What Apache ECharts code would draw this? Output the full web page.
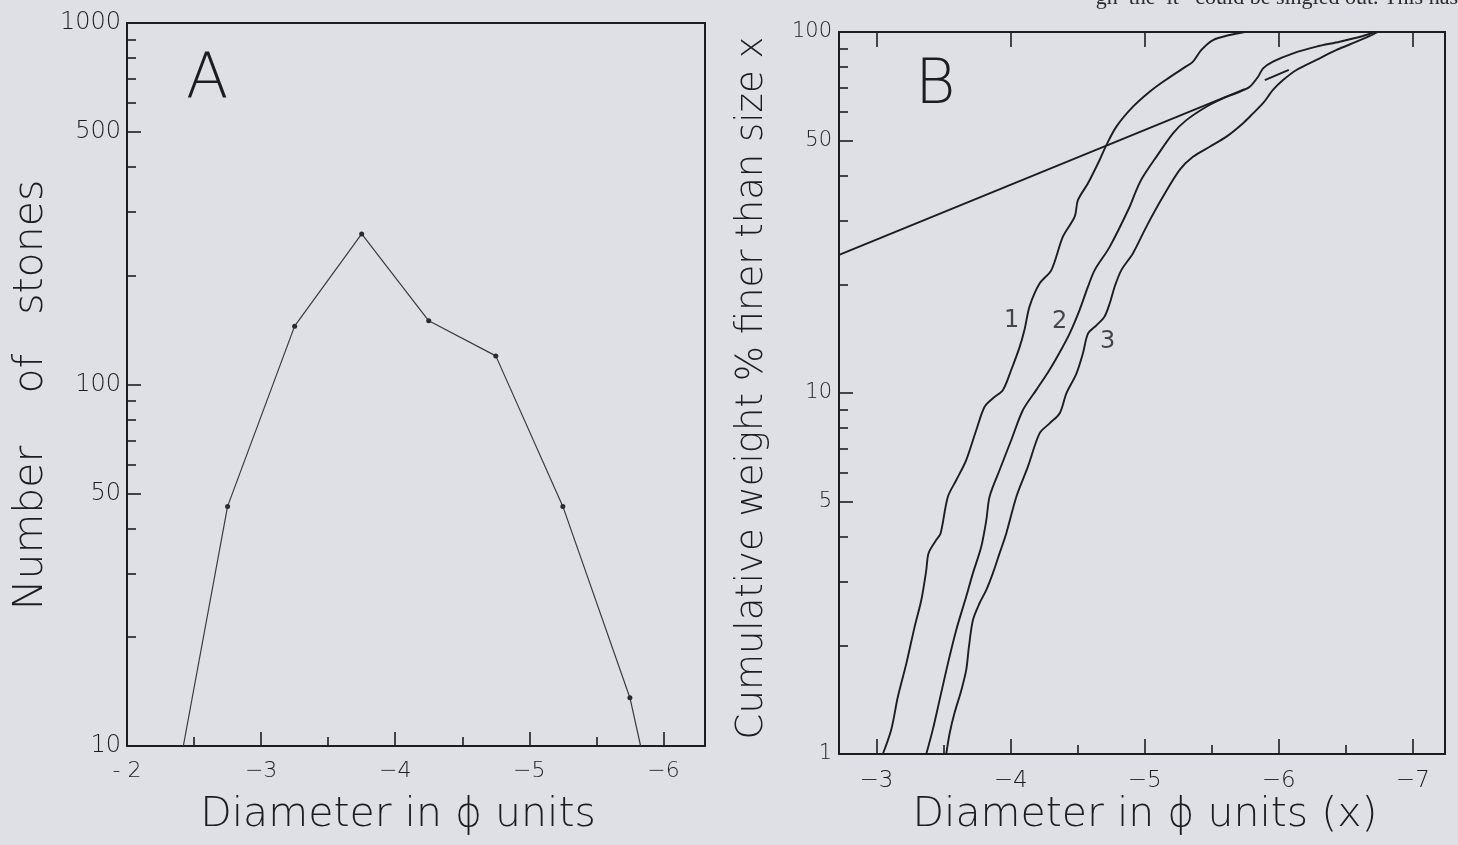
<!DOCTYPE html>
<html>
<head>
<meta charset="utf-8">
<script src="https://cdn.jsdelivr.net/npm/echarts@6/dist/echarts.min.js"></script>
<style>
  html, body { margin: 0; padding: 0; background: #dfe0e6; }
  #chart { width: 1458px; height: 845px; }
</style>
</head>
<body>
<div id="chart"></div>
<script>
// panel A: number of stones per half-phi class
var aPhi = [-2.42, -2.75, -3.25, -3.75, -4.25, -4.75, -5.25, -5.75, -5.83];
var aStones = [10, 46, 145, 261, 150, 120, 46, 13.6, 10];

// panel B: cumulative curves 1, 2, 3
var c1Phi = [-3.047, -3.110, -3.159, -3.222, -3.284, -3.334, -3.371, -3.388, -3.446, -3.478,
  -3.532, -3.595, -3.669, -3.744, -3.806, -3.868, -3.943, -4.005, -4.067, -4.104,
  -4.142, -4.216, -4.304, -4.390, -4.478, -4.502, -4.577, -4.664, -4.714, -4.789,
  -4.913, -5.037, -5.137, -5.286, -5.360, -5.423, -5.510, -5.634, -5.746];
var c1Pct = [1.0, 1.17, 1.44, 1.78, 2.25, 2.67, 3.23, 3.60, 3.92, 4.09,
  5.16, 5.74, 6.52, 7.90, 9.16, 9.67, 10.2, 11.6, 13.4, 15.0,
  17.4, 20.1, 21.9, 27.1, 30.8, 34.2, 38.1, 44.2, 48.6, 54.7,
  62.1, 68.3, 72.8, 79.3, 82.8, 89.2, 95.0, 98.1, 100];

var c2Phi = [-3.371, -3.420, -3.470, -3.532, -3.595, -3.669, -3.719, -3.781, -3.819, -3.843,
  -3.918, -4.005, -4.092, -4.192, -4.291, -4.378, -4.440, -4.515, -4.577, -4.627,
  -4.739, -4.888, -4.938, -4.987, -5.087, -5.211, -5.311, -5.460, -5.584, -5.709,
  -5.784, -5.846, -5.883, -5.957, -6.107, -6.281, -6.455, -6.629, -6.716];
var c2Pct = [1.0, 1.17, 1.41, 1.78, 2.21, 2.73, 3.17, 3.75, 4.45, 5.16,
  6.12, 7.41, 8.97, 10.2, 11.6, 13.2, 14.6, 17.0, 19.7, 21.9,
  25.4, 32.8, 36.5, 39.7, 45.1, 52.4, 57.0, 62.1, 65.5, 68.3,
  70.5, 75.2, 79.3, 82.8, 87.3, 91.1, 94.0, 97.5, 100];

var c3Phi = [-3.520, -3.545, -3.582, -3.632, -3.669, -3.689, -3.719, -3.769, -3.819, -3.868,
  -3.918, -3.968, -4.043, -4.129, -4.216, -4.291, -4.366, -4.416, -4.490, -4.540,
  -4.577, -4.640, -4.701, -4.739, -4.776, -4.826, -4.913, -5.013, -5.137, -5.261,
  -5.360, -5.485, -5.610, -5.734, -5.808, -5.883, -5.957, -6.032, -6.132, -6.281,
  -6.431, -6.580, -6.679, -6.739];
var c3Pct = [1.0, 1.14, 1.30, 1.50, 1.71, 1.98, 2.35, 2.62, 2.85, 3.17,
  3.60, 4.09, 5.16, 6.25, 7.73, 8.24, 8.79, 9.98, 11.3, 12.9,
  14.6, 15.4, 16.3, 17.7, 19.7, 21.9, 24.4, 28.9, 35.0, 41.5,
  45.1, 48.1, 51.3, 55.9, 59.5, 63.5, 69.1, 73.6, 78.5, 83.7,
  89.2, 94.0, 97.5, 100];

// straight reference line (drawn in two pieces, broken where it meets the curves)
var linePhi = [-2.716, -5.746];
var linePct = [24.1, 69.5];
var dashPhi = [-5.896, -6.075];
var dashPct = [73.6, 78.5];

var curveNames = ['1', '2', '3'];
var curveNamePhi = [-4.007, -4.366, -4.724];
var curveNamePct = [15.9, 15.8, 13.85];

// ticks and labels
var aXLabels = [-2, -3, -4, -5, -6];
var aXMajor = [-3, -4, -5, -6];
var aXMinor = [-2.5, -3.5, -4.5, -5.5];
var aYLabels = [10, 50, 100, 500, 1000];
var aYMajor = [50, 100, 500];
var aYMinor = [20, 30, 40, 60, 70, 80, 90, 200, 300, 400, 600, 700, 800, 900];

var bXLabels = [-3, -4, -5, -6, -7];
var bXMinor = [-3.5, -4.5, -5.5, -6.5];
var bYLabels = [1, 5, 10, 50, 100];
var bYMajor = [5, 10, 50];
var bYMinor = [2, 3, 4, 6, 7, 8, 9, 20, 30, 40, 60, 70, 80, 90];

var ink = '#1d1d1f';
var font = 'DejaVu Sans';

function pairs(xs, ys) {
  return xs.map(function (x, i) { return [x, ys[i]]; });
}
function minusFmt(v) {
  return (v == -2 ? '- ' : '\u2212') + Math.abs(v);
}
function plainFmt(v) {
  return String(v);
}
function tickOnly(grid, type, pos, range, values, len, extra) {
  var ax = {
    gridIndex: grid, type: type, position: pos,
    min: range[0], max: range[1],
    axisLine: { show: false },
    splitLine: { show: false },
    axisLabel: { show: false },
    axisTick: { show: true, inside: true, length: len, customValues: values,
      lineStyle: { color: ink, width: 1.6 } }
  };
  return Object.assign(ax, extra || {});
}

var aXRange = [-6.31, -2], bXRange = [-7.24, -2.72];
var xAxes = [
  tickOnly(0, 'value', 'bottom', aXRange, aXMinor, 9, {
    inverse: true,
    axisLabel: { show: true, customValues: aXLabels, formatter: minusFmt, margin: 14,
      fontFamily: font, fontWeight: 200, fontSize: 22, color: ink }
  }),
  tickOnly(0, 'value', 'bottom', aXRange, aXMajor, 14, { inverse: true }),
  tickOnly(1, 'value', 'bottom', bXRange, bXMinor, 9, {
    inverse: true,
    axisLabel: { show: true, customValues: bXLabels, formatter: minusFmt, margin: 16,
      fontFamily: font, fontWeight: 200, fontSize: 23, color: ink }
  }),
  tickOnly(1, 'value', 'bottom', bXRange, bXLabels, 15, { inverse: true }),
  tickOnly(1, 'value', 'top', bXRange, bXLabels, 15, { inverse: true })
];
var yAxes = [
  tickOnly(0, 'log', 'left', [10, 1000], aYMinor, 9, {
    logBase: 10,
    axisLabel: { show: true, customValues: aYLabels, formatter: plainFmt, margin: 6,
      fontFamily: font, fontWeight: 200, fontSize: 24, color: ink }
  }),
  tickOnly(0, 'log', 'left', [10, 1000], aYMajor, 14, { logBase: 10 }),
  tickOnly(1, 'log', 'left', [1, 100], bYMinor, 9, {
    logBase: 10,
    axisLabel: { show: true, customValues: bYLabels, formatter: plainFmt, margin: 7,
      fontFamily: font, fontWeight: 200, fontSize: 21, color: ink }
  }),
  tickOnly(1, 'log', 'left', [1, 100], bYMajor, 14, { logBase: 10 })
];

function curve(xs, ys) {
  return {
    type: 'line', xAxisIndex: 2, yAxisIndex: 2,
    data: pairs(xs, ys), symbol: 'none', smooth: 0.3,
    lineStyle: { color: ink, width: 1.9 }
  };
}

var chart = echarts.init(document.getElementById('chart'), null, { renderer: 'canvas' });
chart.setOption({
  backgroundColor: '#dfe0e6',
  animation: false,
  grid: [
    { left: 127, top: 23, width: 578, height: 723, show: true,
      borderColor: ink, borderWidth: 2, backgroundColor: 'transparent' },
    { left: 839, top: 32, width: 606, height: 722, show: true,
      borderColor: ink, borderWidth: 2, backgroundColor: 'transparent' }
  ],
  xAxis: xAxes,
  yAxis: yAxes,
  series: [
    {
      type: 'line', xAxisIndex: 0, yAxisIndex: 0,
      data: aPhi.map(function (p, i) {
        var end = i === 0 || i === aPhi.length - 1;
        return { value: [p, aStones[i]], symbol: end ? 'none' : 'circle' };
      }),
      symbolSize: 5, showAllSymbol: true,
      itemStyle: { color: '#2a2a2a' },
      lineStyle: { color: '#3a3a3a', width: 1.2 }
    },
    curve(c1Phi, c1Pct),
    curve(c2Phi, c2Pct),
    curve(c3Phi, c3Pct),
    { type: 'line', xAxisIndex: 2, yAxisIndex: 2, data: pairs(linePhi, linePct),
      symbol: 'none', lineStyle: { color: ink, width: 1.9 } },
    { type: 'line', xAxisIndex: 2, yAxisIndex: 2, data: pairs(dashPhi, dashPct),
      symbol: 'none', lineStyle: { color: ink, width: 1.9 } },
    {
      type: 'scatter', xAxisIndex: 2, yAxisIndex: 2,
      data: pairs(curveNamePhi, curveNamePct),
      symbolSize: 1, itemStyle: { color: 'rgba(0,0,0,0)' },
      label: { show: true, position: 'inside', fontFamily: font, fontWeight: 'normal',
        fontSize: 24, color: ink,
        formatter: function (p) { return curveNames[p.dataIndex]; } }
    }
  ],
  graphic: [
    { type: 'text', left: 186, top: 50,
      style: { text: 'A', font: '200 62px "DejaVu Sans"', fill: ink } },
    { type: 'text', left: 915, top: 56,
      style: { text: 'B', font: '200 62px "DejaVu Sans"', fill: ink } },
    { type: 'text', x: 31, y: 395, rotation: Math.PI / 2,
      style: { text: 'Number\u00a0\u00a0\u00a0 of\u00a0\u00a0 stones', font: '200 41px "DejaVu Sans"',
        fill: ink, align: 'center', verticalAlign: 'middle' } },
    { type: 'text', x: 398, y: 815,
      style: { text: 'Diameter in \u03d5 units', font: '200 41px "DejaVu Sans"',
        fill: ink, align: 'center', verticalAlign: 'middle' } },
    { type: 'text', x: 752, y: 388, rotation: Math.PI / 2,
      style: { text: 'Cumulative weight % finer than size x', font: '200 37px "DejaVu Sans"',
        fill: ink, align: 'center', verticalAlign: 'middle' } },
    { type: 'text', x: 1145, y: 815,
      style: { text: 'Diameter in \u03d5 units (x)', font: '200 41px "DejaVu Sans"',
        fill: ink, align: 'center', verticalAlign: 'middle' } },
    { type: 'text', x: 1458, y: -2,
      style: { text: 'gh  the  it   could be singled out. This has', font: '22px "Liberation Serif"',
        fill: '#2a2a2a', align: 'right', verticalAlign: 'middle' } }
  ]
});
</script>
</body>
</html>
